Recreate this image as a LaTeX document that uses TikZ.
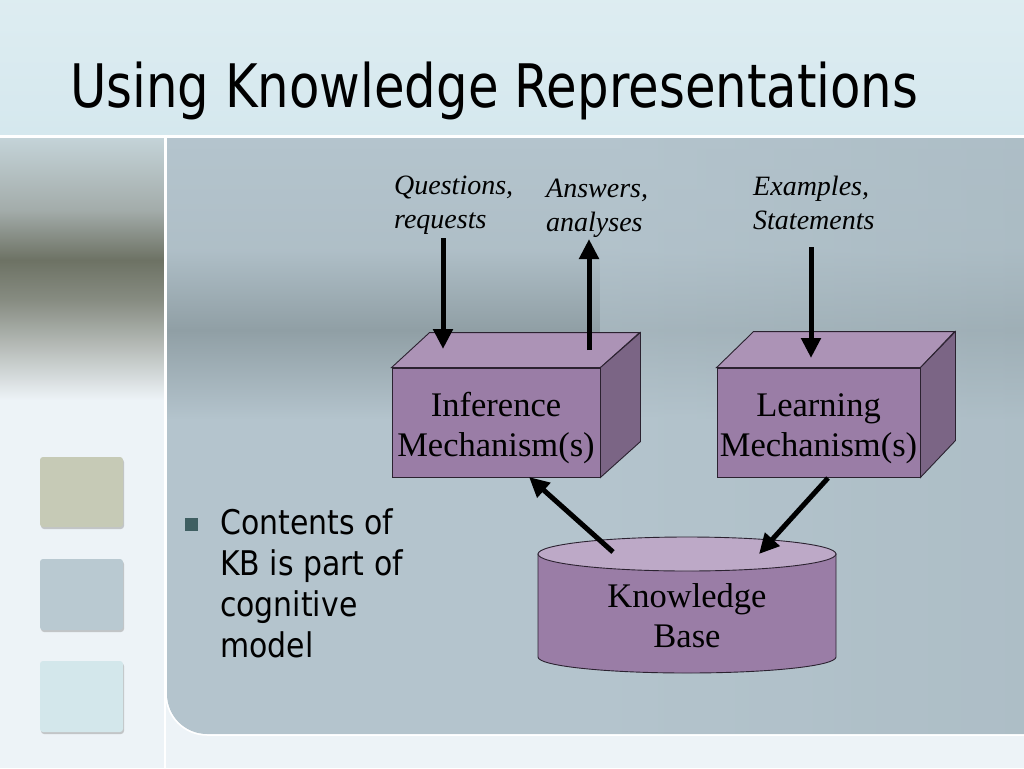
\documentclass[tikz,border=0pt]{standalone}
\usepackage{fontspec}
\usepackage{graphicx}
\setmainfont{Liberation Serif}
\newfontfamily\tahfont{DejaVu Sans}
\usetikzlibrary{arrows.meta}
\definecolor{titlebg}{HTML}{D5E8EE}
\definecolor{pagebg}{HTML}{EDF3F7}
\definecolor{panelA}{HTML}{B4C4CD}
\definecolor{panelB}{HTML}{909FA5}
\definecolor{panelC}{HTML}{A9BAC2}
\definecolor{leftdark}{HTML}{6D7264}
\definecolor{leftmid}{HTML}{A3ACAA}
\definecolor{sqA}{HTML}{C6CAB6}
\definecolor{sqB}{HTML}{B9C9D1}
\definecolor{sqC}{HTML}{D3E7EB}
\definecolor{frontc}{HTML}{9A7DA6}
\definecolor{topc}{HTML}{AC93B6}
\definecolor{sidec}{HTML}{7B6585}
\definecolor{cyltop}{HTML}{BDA9C7}
\definecolor{edgec}{HTML}{2B2230}
\definecolor{bulletc}{HTML}{3F5F62}
\newcommand{\boxtext}[2]{\raisebox{#1}[\height][\depth]{\begin{tabular}{@{}c@{}}#2\end{tabular}}}
\tikzset{
  cubefront/.style={draw=edgec, line width=0.9pt, fill=frontc, minimum width=208, minimum height=109,
    inner sep=0pt, font=\fontsize{34.5}{40}\selectfont},
  face/.style={draw=edgec, line width=0.9pt},
  lbl/.style={inner sep=0pt, anchor=base west, font=\fontsize{28}{34}\selectfont\itshape},
  arr/.style={line width=5pt, -{Triangle[width=19pt,length=20pt]}},
  sq/.style={rounded corners=3pt},
}
\begin{document}
\begin{tikzpicture}[x=1pt,y=-1pt]
\useasboundingbox (0,0) rectangle (1024,768);
% page background
\fill[pagebg] (0,0) rectangle (1024,768);
% title band
\shade[top color=titlebg!80!white, bottom color=titlebg] (0,0) rectangle (1024,135);
\draw[white, line width=3pt] (0,136) -- (1024,136);
% left panel blurred image
\shade[top color=titlebg!80!gray, bottom color=leftmid] (0,138) rectangle (164,210);
\shade[top color=leftmid, bottom color=leftdark] (0,210) rectangle (164,260);
\shade[top color=leftdark, bottom color=leftdark!80!pagebg] (0,260) rectangle (164,300);
\shade[top color=leftdark!80!pagebg, bottom color=pagebg] (0,300) rectangle (164,400);
\draw[white, line width=2.5pt] (165,137) -- (165,768);
% main panel
\begin{scope}
\clip (167,138) -- (1024,138) -- (1024,734) -- (207,734) arc (90:180:40) -- cycle;
\shade[top color=panelA, bottom color=panelA!85!panelB] (167,138) rectangle (1024,250);
\shade[top color=panelA!85!panelB, bottom color=panelB] (167,250) rectangle (1024,330);
\shade[top color=panelB, bottom color=panelA] (167,330) rectangle (1024,420);
\fill[panelA] (167,420) rectangle (1024,734);
\shade[left color=panelA, right color=panelC, opacity=0.6] (600,138) rectangle (1024,734);
\end{scope}
\draw[white, line width=1.5pt] (1024,735) -- (207,735) arc (90:180:41) -- (166,138);
% squares
\fill[sq, black!40, opacity=0.5] (41,459) rectangle (124,529);
\fill[sq, sqA] (40,457) rectangle (123,527);
\fill[sq, black!40, opacity=0.5] (41,561) rectangle (124,632);
\fill[sq, sqB] (40,559) rectangle (123,630);
\fill[sq, black!40, opacity=0.5] (41,663) rectangle (124,734);
\fill[sq, sqC] (40,661) rectangle (123,732);
% title
\node[anchor=base west, inner sep=0pt] (title) at (70,107)
  {\resizebox{848pt}{\height}{\tahfont\fontsize{60}{62}\selectfont Using Knowledge Representations}};
% bullet
\fill[bulletc] (185,518) rectangle (198,531);
\node[anchor=base west, inner sep=0pt, font=\tahfont\fontsize{34}{41}\selectfont] (bul) at (220,534)
  {\scalebox{0.88}[1]{\begin{tabular}[t]{@{}l@{}}Contents of\\KB is part of\\cognitive\\model\end{tabular}}};
% inference cube
\node[cubefront] (inf) at (496,422.5) {\boxtext{-6pt}{Inference\\Mechanism(s)}};
\filldraw[face, fill=topc] (inf.north west) -- ++(38,-35) -- ++(210,0) -- (inf.north east) -- cycle;
\filldraw[face, fill=sidec] (inf.north east) -- ++(40,-35) -- ++(0,109) -- (inf.south east) -- cycle;
% learning cube
\node[cubefront, minimum width=203] (lrn) at (818.5,422.5) {\boxtext{-6pt}{Learning\\Mechanism(s)}};
\filldraw[face, fill=topc] (lrn.north west) -- ++(37,-36) -- ++(201,0) -- (lrn.north east) -- cycle;
\filldraw[face, fill=sidec] (lrn.north east) -- ++(35,-36) -- ++(0,109) -- (lrn.south east) -- cycle;
% knowledge base cylinder
\filldraw[face, fill=frontc] (538,554) -- (538,657) arc (180:0:149 and 16) -- (836,554) -- cycle;
\filldraw[face, fill=cyltop] (687,554) ellipse (149 and 17);
\node[inner sep=0pt, font=\fontsize{34.5}{40}\selectfont] (kb) at (687,619) {\boxtext{0pt}{Knowledge\\Base}};
% labels
\node[lbl] (qlab) at (394,194) {\begin{tabular}[t]{@{}l@{}}Questions,\\requests\end{tabular}};
\node[lbl] (alab) at (546,197) {\begin{tabular}[t]{@{}l@{}}Answers,\\analyses\end{tabular}};
\node[lbl] (elab) at (753,195) {\begin{tabular}[t]{@{}l@{}}Examples,\\Statements\end{tabular}};
% connectors
\coordinate (qs) at (443,238);
\coordinate (qe) at (443,349);
\coordinate (as) at (589,350);
\coordinate (ae) at (589,239);
\coordinate (es) at (811,247);
\coordinate (ee) at (811,358);
\coordinate (ks) at (613,552);
\coordinate (ke) at (529,477);
\coordinate (ls) at (828,478);
\coordinate (le) at (759,554);
\draw[arr] (qs) -- (qe);
\draw[arr] (as) -- (ae);
\draw[arr] (es) -- (ee);
\draw[arr] (ks) -- (ke);
\draw[arr] (ls) -- (le);
\end{tikzpicture}
\end{document}
